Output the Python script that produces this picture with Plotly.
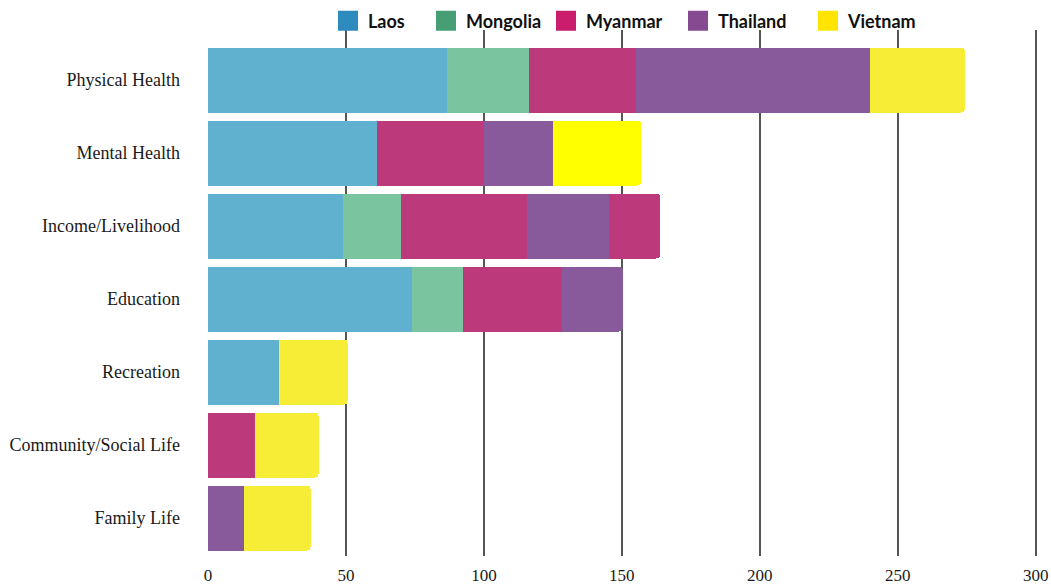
import plotly.graph_objects as go

categories = ["Physical Health", "Mental Health", "Income/Livelihood", "Education",
              "Recreation", "Community/Social Life", "Family Life"]

laos = [86.5, 61.2, 48.8, 73.9, 25.6, None, None]
mongolia = [29.8, None, 21.1, 18.5, None, None, None]
myanmar = [38.7, 38.7, 45.7, 35.8, None, 16.9, None]
thailand = [84.9, 25.2, 29.8, 22.1, None, None, 12.9]
myanmar_extra = [None, None, 18.4, None, None, None, None]
vietnam = [34.4, 32.0, None, None, 25.0, 23.2, 24.3]

countries = ["Laos", "Mongolia", "Myanmar", "Thailand", "Vietnam"]
x_ticks = [0, 50, 100, 150, 200, 250, 300]

bar_colors = {"Laos": "#60B1D0", "Mongolia": "#7AC4A0", "Myanmar": "#BC3A7C",
              "Thailand": "#88599B", "Vietnam": "#F7EC36"}
vietnam_point_colors = ["#F7EC36", "#FFFF00", "#F7EC36", "#F7EC36", "#F7EC36", "#F7EC36", "#F7EC36"]
legend_colors = {"Laos": "#2E8BBE", "Mongolia": "#469E75", "Myanmar": "#CB1D6E",
                 "Thailand": "#854A8F", "Vietnam": "#FFE400"}

W, H = 1051, 584
X_MAX = 303
PX_PER_UNIT = 2.76
plot_w = PX_PER_UNIT * X_MAX
left = 208

fig = go.Figure()

series = [("Laos", laos, bar_colors["Laos"]),
          ("Mongolia", mongolia, bar_colors["Mongolia"]),
          ("Myanmar", myanmar, bar_colors["Myanmar"]),
          ("Thailand", thailand, bar_colors["Thailand"]),
          ("Myanmar", myanmar_extra, bar_colors["Myanmar"]),
          ("Vietnam", vietnam, vietnam_point_colors)]

for name, vals, col in series:
    fig.add_trace(go.Bar(
        name=name, y=categories, x=vals, orientation="h",
        marker=dict(color=col, line=dict(width=0)),
        showlegend=False, hoverinfo="x+name",
    ))

# legend entries
legend_x_px = [328, 426, 546, 678, 808]
for i, c in enumerate(countries):
    lname = "legend" if i == 0 else f"legend{i+1}"
    fig.add_trace(go.Scatter(
        x=[None], y=[None], mode="markers", name=c,
        marker=dict(symbol="square", size=16, color=legend_colors[c],
                    line=dict(width=4, color=legend_colors[c])),
        legend=lname, showlegend=True,
    ))

legend_common = dict(orientation="h", xref="container", yref="container",
                     yanchor="middle", xanchor="left", y=1 - 21 / H,
                     bgcolor="rgba(0,0,0,0)", borderwidth=0,
                     font=dict(family="Lato", size=18, color="#111111", weight="bold"))

layout_legends = {}
for i, px in enumerate(legend_x_px):
    lname = "legend" if i == 0 else f"legend{i+1}"
    layout_legends[lname] = dict(legend_common, x=px / W)

fig.update_layout(
    width=W, height=H,
    barmode="stack", bargap=0.11, barcornerradius=4,
    plot_bgcolor="white", paper_bgcolor="white",
    margin=dict(l=left, r=W - left - plot_w, t=30, b=H - 556, autoexpand=False),
    **layout_legends,
)

fig.update_xaxes(
    range=[0, X_MAX], tickvals=x_ticks,
    showgrid=True, gridcolor="#555555", gridwidth=1.5,
    zeroline=True, zerolinecolor="white", zerolinewidth=3, showline=False, ticks="",
    tickfont=dict(family="Liberation Serif", size=17, color="#1a1a1a"),
    ticklabelstandoff=7, ticklabeloverflow="allow", fixedrange=True,
)
fig.update_yaxes(
    type="category", categoryorder="array", categoryarray=categories,
    range=[6.52, -0.685], showgrid=False, zeroline=False, showline=False, ticks="",
    tickfont=dict(family="Liberation Serif", size=18, color="#1a1a1a"),
    ticklabelstandoff=27, fixedrange=True,
)

fig.write_html(
    "out.html",
    config={"displayModeBar": False},
    post_script="document.body.style.margin='0';document.body.style.overflow='hidden';",
)
